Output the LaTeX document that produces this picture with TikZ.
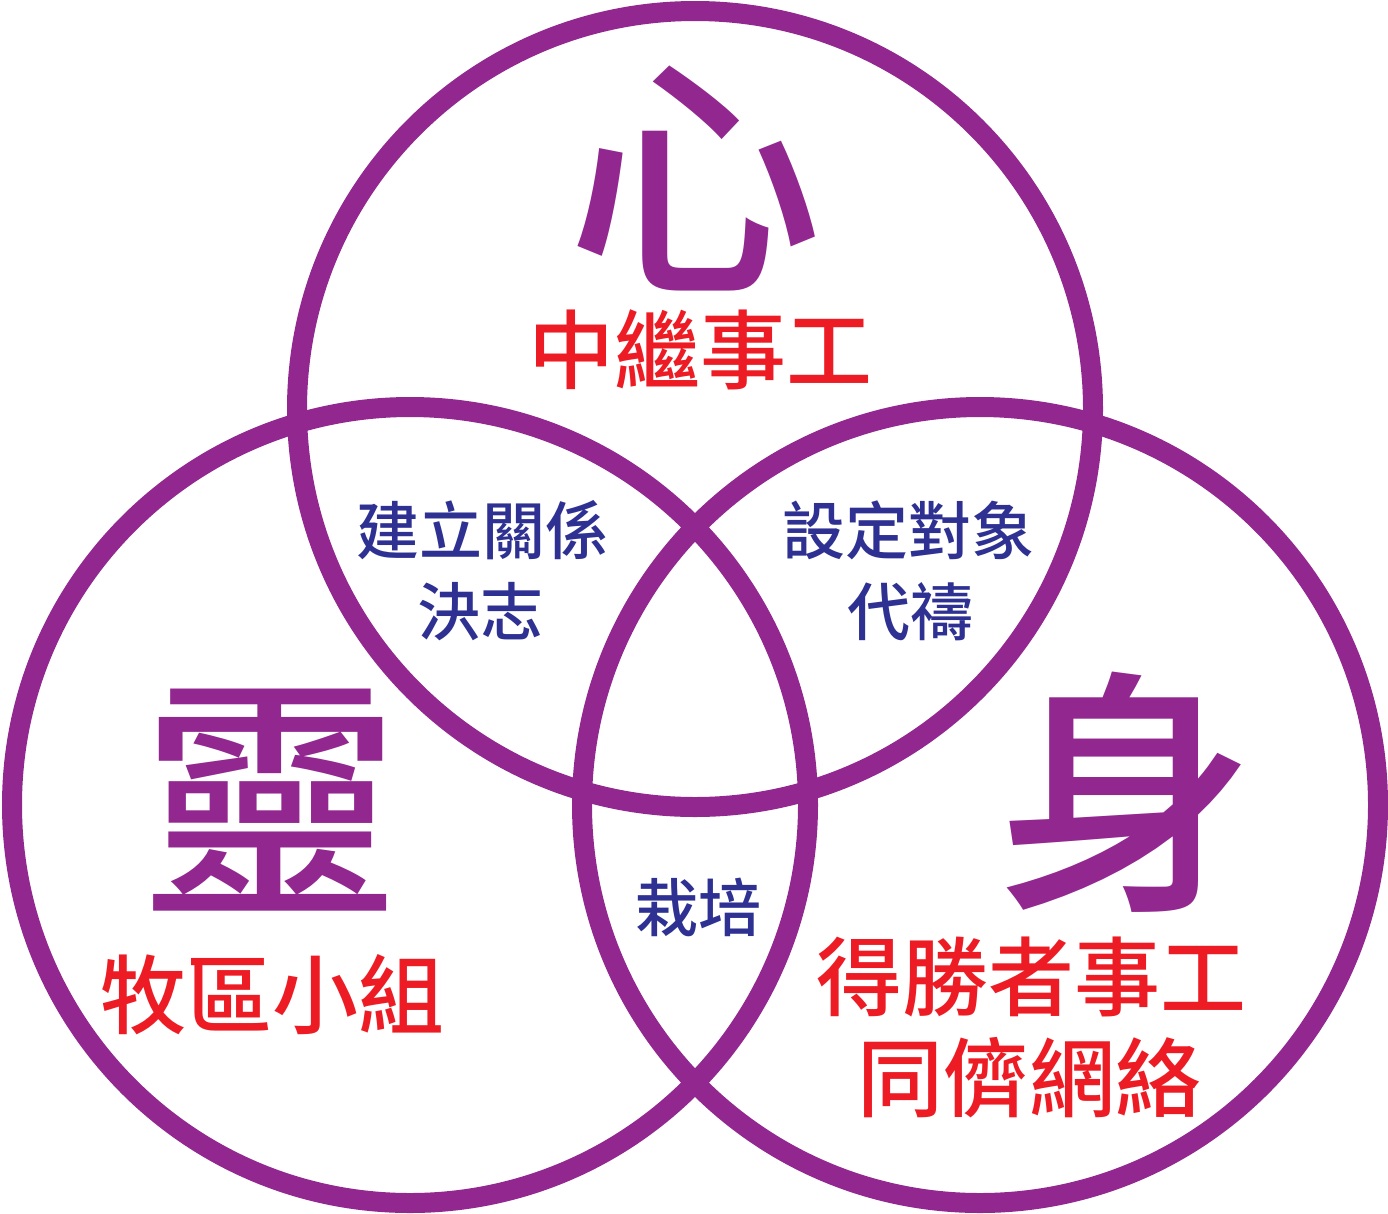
\documentclass[tikz,border=0pt]{standalone}
\usepackage{fontspec}
\newfontfamily\cjk{Noto Sans CJK TC Medium}
\definecolor{vennpurple}{HTML}{92278F}
\definecolor{vennred}{HTML}{ED1C24}
\definecolor{vennblue}{HTML}{2E3192}
\tikzset{
  ring/.style={draw=vennpurple, line width=20pt},
  bigchar/.style={font=\cjk\fontsize{258}{258}\selectfont, vennpurple},
  redlabel/.style={font=\cjk\fontsize{86}{86}\selectfont, vennred},
  bluelabel/.style={font=\cjk\fontsize{63}{63}\selectfont, vennblue}
}

\begin{document}
\begin{tikzpicture}[x=1pt, y=-1pt]
  \useasboundingbox (0,0) rectangle (1388,1213);
  % Tres círculos
  \coordinate (cxin) at (695,409);
  \coordinate (cling) at (410,805);
  \coordinate (cshen) at (980,805);
  \foreach \c in {cxin, cling, cshen} {
    \draw[ring] (\c) circle[radius=398pt];
  }
  % Caracteres grandes
  \node[bigchar, font=\cjk\fontsize{255}{255}\selectfont] (xin) at (695,178) {心};
  \node[bigchar] (ling) at (270,800) {靈};
  \node[bigchar] (shen) at (1125,792) {身};
  % Textos rojos
  \node[redlabel] (zhongji) at (700,350) {中繼事工};
  \node[redlabel] (muqu) at (272,995) {牧區小組};
  \node[redlabel] (desheng) at (1031,977) {得勝者事工};
  \node[redlabel] (tongchai) at (1029,1078) {同儕網絡};
  % Textos azules
  \node[bluelabel] (jianli) at (482,530) {建立關係};
  \node[bluelabel] (juezhi) at (480,612) {決志};
  \node[bluelabel] (sheding) at (908,530) {設定對象};
  \node[bluelabel] (daidao) at (910,612) {代禱};
  \node[bluelabel] (zaipei) at (698,907) {栽培};
\end{tikzpicture}
\end{document}
